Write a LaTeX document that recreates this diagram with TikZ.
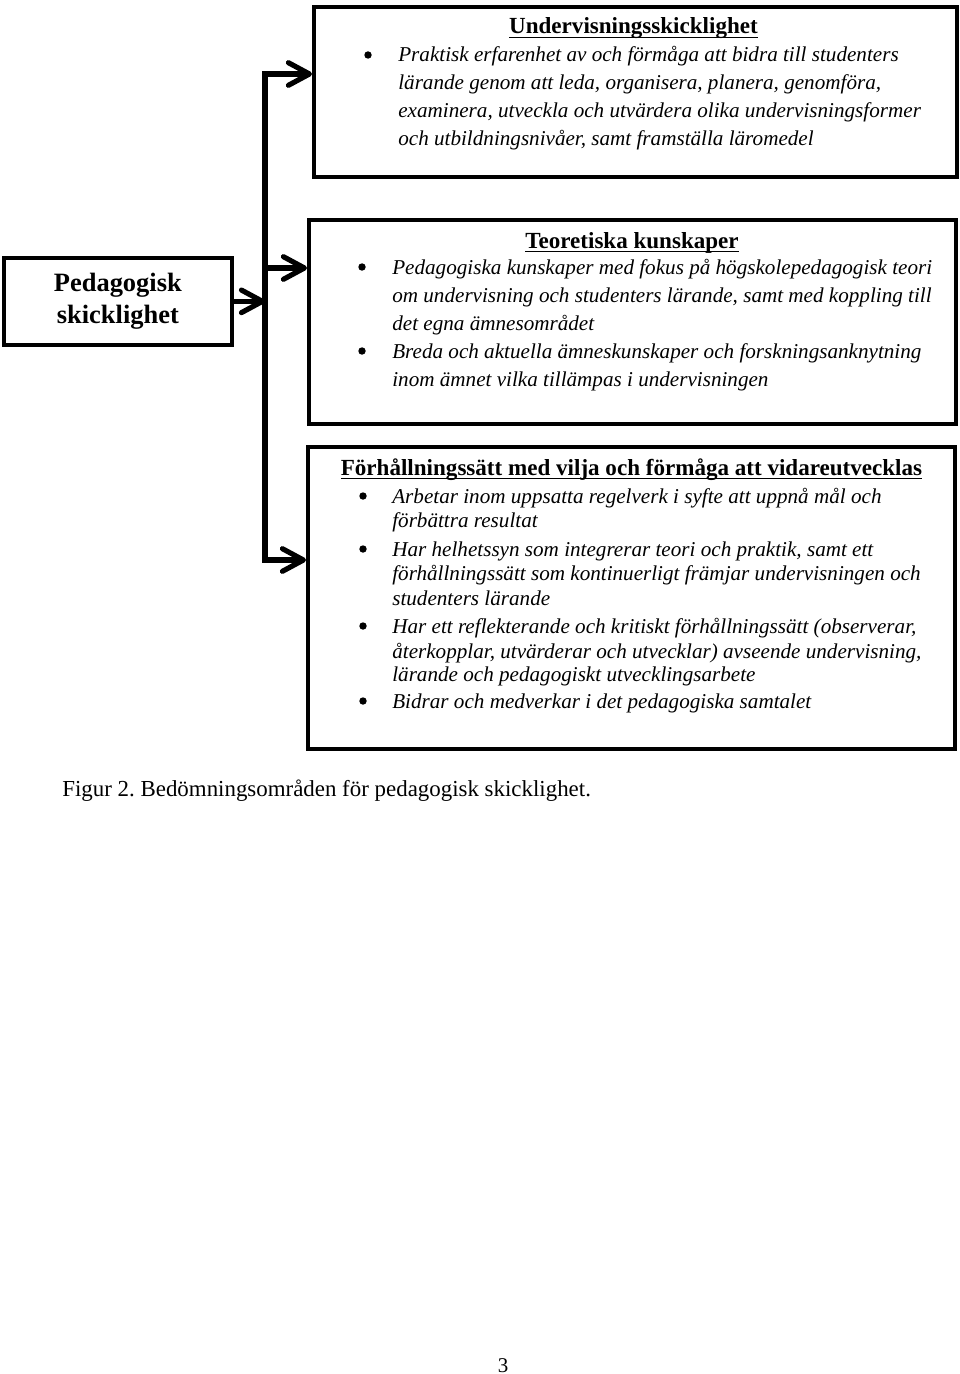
\documentclass[tikz,border=0pt]{standalone}
\usepackage{fontspec}
\setmainfont{Liberation Serif}
\usetikzlibrary{arrows.meta}
\frenchspacing
\newcommand{\myul}[1]{\setbox0\hbox{#1}\rlap{\rule[-2.6pt]{\wd0}{0.85pt}}\box0}
\begin{document}
\begin{tikzpicture}[x=0.62pt,y=-0.62pt,
  frame/.style={draw, line width=2.3pt, inner sep=0pt, anchor=north west},
  conn/.style={line width=3.2pt, line join=miter},
  tip/.style={-{Straight Barb[length=13pt,width=14pt,round]}},
  ttl/.style={anchor=base, inner sep=0pt, font=\fontsize{14.3}{17}\selectfont\bfseries},
  ln/.style={anchor=base west, inner sep=0pt, font=\fontsize{13.1}{16}\selectfont\itshape},
  dot/.style={circle, fill, inner sep=0pt, minimum size=4.6pt}]
\useasboundingbox (0,0) rectangle (960,1374);

% boxes
\node[frame, minimum width={643*0.62pt}, minimum height={170*0.62pt}] (b1) at (312,5) {};
\node[frame, minimum width={647*0.62pt}, minimum height={204*0.62pt}] (b2) at (307,218) {};
\node[frame, minimum width={647*0.62pt}, minimum height={302*0.62pt}] (b3) at (306,445) {};
\node[frame, minimum width={228*0.62pt}, minimum height={87*0.62pt}, align=center,
      font=\fontsize{16.4}{19.8}\selectfont\bfseries] (ped) at (2,256) {Pedagogisk\\skicklighet};

% connectors
\coordinate (jt) at (265,74);
\coordinate (jm) at (265,268);
\coordinate (jb) at (265,560);
\draw[conn, {Straight Barb[length=13pt,width=14pt,round]}-{Straight Barb[length=13pt,width=14pt,round]}]
  (jt -| b1.west) -- (jt) -- (jb) -- (jb -| b3.west);
\draw[conn, tip] (jm) -- (jm -| b2.west);
\draw[conn, tip] (ped.east) -- (ped.east -| jt);

% box 1
\node[ttl] (t1) at (633.5,34) {\myul{Undervisningsskicklighet}};
\node[dot] (d11) at (368,55) {};
\node[ln] (l11) at (398,62) {Praktisk erfarenhet av och förmåga att bidra till studenters};
\node[ln] (l12) at (398,90) {lärande genom att leda, organisera, planera, genomföra,};
\node[ln] (l13) at (398,118) {examinera, utveckla och utvärdera olika undervisningsformer};
\node[ln] (l14) at (398,146) {och utbildningsnivåer, samt framställa läromedel};

% box 2
\node[ttl] (t2) at (632,248) {\myul{Teoretiska kunskaper}};
\node[dot] (d21) at (362,267) {};
\node[ln] (l21) at (392,274) {Pedagogiska kunskaper med fokus på högskolepedagogisk teori};
\node[ln] (l22) at (392,302) {om undervisning och studenters lärande, samt med koppling till};
\node[ln] (l23) at (392,330) {det egna ämnesområdet};
\node[dot] (d22) at (362,351) {};
\node[ln] (l24) at (392,358) {Breda och aktuella ämneskunskaper och forskningsanknytning};
\node[ln] (l25) at (392,386) {inom ämnet vilka tillämpas i undervisningen};

% box 3
\node[ttl] (t3) at (631.5,475) {\myul{Förhållningssätt med vilja och förmåga att vidareutvecklas}};
\node[dot] (d31) at (363,496) {};
\node[ln] (l31) at (392,503) {Arbetar inom uppsatta regelverk i syfte att uppnå mål och};
\node[ln] (l32) at (392,527) {förbättra resultat};
\node[dot] (d32) at (363,549) {};
\node[ln] (l33) at (392,556) {Har helhetssyn som integrerar teori och praktik, samt ett};
\node[ln] (l34) at (392,580) {förhållningssätt som kontinuerligt främjar undervisningen och};
\node[ln] (l35) at (392,605) {studenters lärande};
\node[dot] (d33) at (363,626) {};
\node[ln] (l36) at (392,633) {Har ett reflekterande och kritiskt förhållningssätt (observerar,};
\node[ln] (l37) at (392,658) {återkopplar, utvärderar och utvecklar) avseende undervisning,};
\node[ln] (l38) at (392,681) {lärande och pedagogiskt utvecklingsarbete};
\node[dot] (d34) at (363,701) {};
\node[ln] (l39) at (392,708) {Bidrar och medverkar i det pedagogiska samtalet};

% caption and page number
\node[anchor=base west, inner sep=0pt, font=\fontsize{14.2}{16}\selectfont] (cap) at (62,796)
  {Figur 2. Bedömningsområden för pedagogisk skicklighet.};
\node[anchor=base, inner sep=0pt, font=\fontsize{13}{15}\selectfont] (pg) at (503,1372) {3};
\end{tikzpicture}
\end{document}
